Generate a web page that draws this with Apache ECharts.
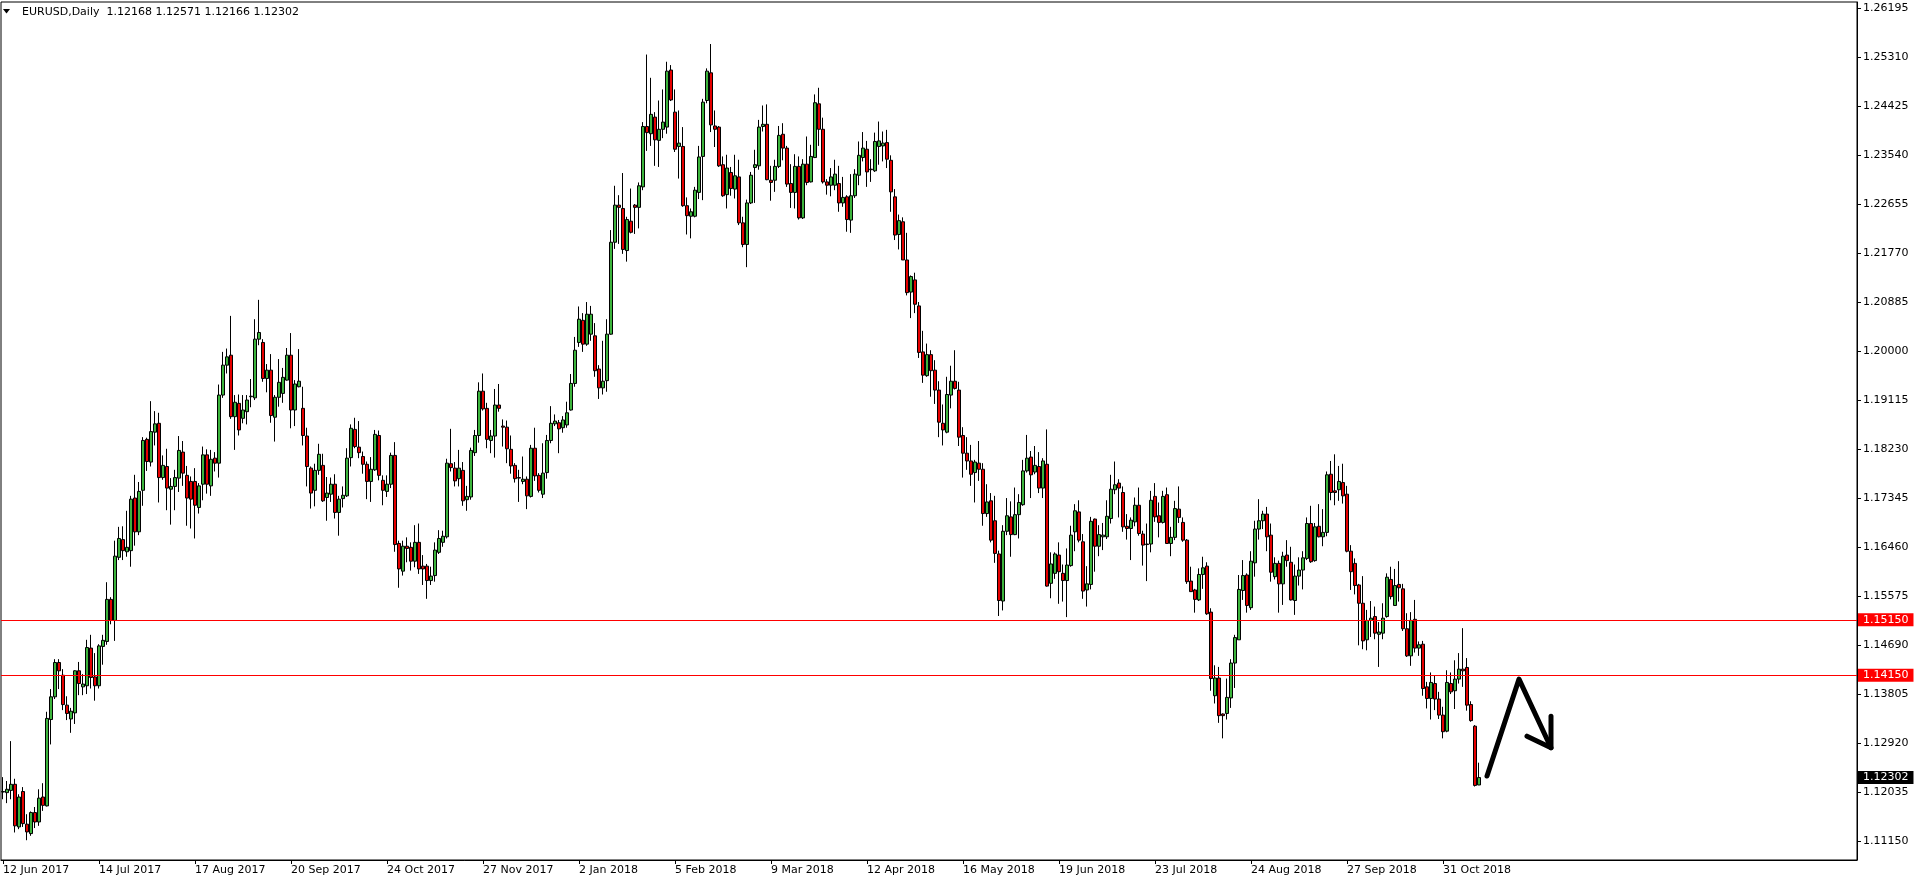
<!DOCTYPE html>
<html><head><meta charset="utf-8">
<script src="https://cdn.jsdelivr.net/npm/echarts@6/dist/echarts.min.js"></script>
<style>html,body{margin:0;padding:0;background:#fff}#c{width:1916px;height:884px}</style>
</head><body><div id="c"></div>
<script>
const headerText = 'EURUSD,Daily  1.12168 1.12571 1.12166 1.12302';
const startDate = [2017, 5, 12];
const holidays = ['12-25', '01-01'];
const totalSlots = 464;
const tickLabels = ['12 Jun 2017','14 Jul 2017','17 Aug 2017','20 Sep 2017','24 Oct 2017','27 Nov 2017','2 Jan 2018','5 Feb 2018','9 Mar 2018','12 Apr 2018','16 May 2018','19 Jun 2018','23 Jul 2018','24 Aug 2018','27 Sep 2018','31 Oct 2018'];
const yTicks = [1.26195,1.25310,1.24425,1.23540,1.22655,1.21770,1.20885,1.20000,1.19115,1.18230,1.17345,1.16460,1.15575,1.14690,1.13805,1.12920,1.12035,1.11150];
const yMin = 1.10813, yMax = 1.26309;
const levels = [1.15150, 1.14150];
const currentPrice = 1.12302;
const arrowPath = [[371,1.1233],[379,1.1408],[387,1.1284]];
const arrowHead = [[381,1.1305],[387,1.1284],[387,1.1341]];
// [open, close, low, high]
const candles = [
[1.1204,1.1205,1.1191,1.1231],[1.1203,1.1209,1.1184,1.1224],[1.1207,1.1218,1.1191,1.1296],[1.1218,1.1143,1.1131,1.1228],[1.1141,1.1195,1.1137,1.12],
[1.1205,1.1147,1.1141,1.1213],[1.1146,1.1132,1.1117,1.1164],[1.1129,1.1167,1.1125,1.1169],[1.1167,1.115,1.1139,1.1177],[1.115,1.1193,1.1143,1.1209],
[1.1195,1.118,1.117,1.122],[1.1179,1.1337,1.1178,1.1349],[1.1335,1.1376,1.129,1.139],[1.1376,1.1438,1.1372,1.1444],[1.1438,1.1423,1.139,1.1444],
[1.1415,1.1362,1.1352,1.1426],[1.1361,1.1346,1.1334,1.1377],[1.1336,1.135,1.1311,1.1356],[1.1347,1.1423,1.1327,1.1424],[1.1423,1.14,1.1379,1.1439],
[1.1394,1.1399,1.1379,1.1417],[1.1396,1.1465,1.1381,1.1479],[1.1464,1.1411,1.1391,1.1488],[1.1412,1.1396,1.1369,1.1455],[1.1396,1.1468,1.1391,1.1471],
[1.1467,1.1478,1.1434,1.1488],[1.1476,1.1552,1.147,1.1583],[1.1552,1.1514,1.1507,1.1556],[1.1514,1.163,1.1477,1.1658],[1.1628,1.1662,1.1623,1.1683],
[1.166,1.164,1.1623,1.1684],[1.1638,1.1646,1.1629,1.1712],[1.164,1.1733,1.1611,1.1739],[1.1735,1.1674,1.1649,1.1777],[1.1674,1.1747,1.1668,1.1764],
[1.1749,1.1839,1.1721,1.1845],[1.1841,1.1801,1.1784,1.1844],[1.18,1.1855,1.1792,1.191],[1.1854,1.1869,1.183,1.1892],[1.187,1.1772,1.1727,1.1889],
[1.1772,1.1794,1.1768,1.1812],[1.1792,1.1753,1.1713,1.1824],[1.1751,1.1756,1.1687,1.1771],[1.1756,1.1772,1.1713,1.1786],[1.1771,1.1821,1.1746,1.1847],
[1.1818,1.178,1.1757,1.1838],[1.1776,1.1735,1.1685,1.1793],[1.1765,1.1733,1.168,1.1774],[1.1765,1.1722,1.1662,1.1789],[1.1718,1.1757,1.1707,1.1762],
[1.176,1.1813,1.1731,1.1828],[1.1813,1.176,1.1743,1.1823],[1.1757,1.1805,1.1739,1.1822],[1.1807,1.1798,1.1783,1.1818],[1.1798,1.1921,1.1772,1.194],
[1.1921,1.1975,1.1916,1.1999],[1.1975,1.199,1.196,1.2005],[1.1993,1.1882,1.1878,1.2064],[1.1882,1.1908,1.1822,1.1921],[1.1906,1.1858,1.1848,1.1922],
[1.1879,1.1894,1.187,1.1921],[1.1891,1.1912,1.1868,1.1921],[1.1918,1.1919,1.1899,1.195],[1.1916,1.2022,1.1912,1.2058],[1.2022,1.2034,1.2011,1.2093],
[1.2016,1.1951,1.1945,1.2022],[1.1951,1.1966,1.1926,1.1977],[1.1966,1.1884,1.1871,1.1995],[1.1881,1.1917,1.1837,1.1921],[1.1917,1.1944,1.19,1.1986],
[1.1924,1.1953,1.1907,1.197],[1.1948,1.1993,1.1947,1.2006],[1.1993,1.1894,1.1861,1.2033],[1.1894,1.1941,1.1865,1.1948],[1.1936,1.1946,1.1935,1.2004],
[1.1897,1.1848,1.183,1.1936],[1.1847,1.1792,1.1756,1.1862],[1.1789,1.1744,1.1716,1.1792],[1.1749,1.1785,1.172,1.1797],[1.1785,1.1814,1.1777,1.1833],
[1.1794,1.173,1.1728,1.1815],[1.1736,1.1744,1.1694,1.1773],[1.1742,1.176,1.1728,1.1772],[1.176,1.1709,1.1698,1.1778],[1.1709,1.1733,1.1667,1.1739],
[1.1734,1.174,1.1718,1.1756],[1.1739,1.1807,1.1737,1.1825],[1.1808,1.1861,1.1792,1.1868],[1.1859,1.1828,1.1825,1.188],[1.1827,1.1817,1.1807,1.1874],
[1.181,1.1796,1.1779,1.1819],[1.1796,1.1765,1.1733,1.1801],[1.1765,1.1787,1.1728,1.1809],[1.1786,1.185,1.1784,1.1858],[1.1848,1.1776,1.1767,1.1857],
[1.1767,1.1749,1.1722,1.1776],[1.1747,1.176,1.1737,1.1776],[1.176,1.1812,1.1753,1.1817],[1.1812,1.1651,1.1638,1.1836],[1.1653,1.1607,1.1573,1.1658],
[1.1603,1.1648,1.1595,1.1658],[1.1648,1.1644,1.1619,1.1664],[1.1646,1.1621,1.1604,1.1655],[1.1621,1.1655,1.161,1.1686],[1.1655,1.1607,1.1598,1.1689],
[1.1612,1.1607,1.1578,1.1632],[1.1612,1.1586,1.1553,1.1616],[1.1586,1.1594,1.1578,1.1611],[1.1595,1.1641,1.1584,1.1655],[1.1637,1.1662,1.1634,1.1677],
[1.1655,1.1666,1.1647,1.1676],[1.1665,1.1798,1.1662,1.1806],[1.1797,1.179,1.1783,1.186],[1.1789,1.1766,1.1756,1.18],[1.177,1.1789,1.1756,1.1822],
[1.1785,1.173,1.1721,1.18],[1.1732,1.1738,1.1712,1.1757],[1.1737,1.1821,1.1732,1.1826],[1.1817,1.1848,1.1811,1.1858],[1.1848,1.1928,1.1835,1.1944],
[1.1928,1.1896,1.1893,1.196],[1.1897,1.1841,1.1825,1.1907],[1.1839,1.1847,1.1816,1.1858],[1.1847,1.1903,1.1808,1.1932],[1.1903,1.1897,1.1891,1.1941],
[1.1865,1.1863,1.1828,1.1877],[1.1863,1.1824,1.1798,1.1875],[1.1823,1.1793,1.1779,1.1848],[1.1794,1.177,1.1763,1.1798],[1.1772,1.1771,1.1728,1.1786],
[1.1765,1.1769,1.176,1.181],[1.1769,1.1739,1.1715,1.1774],[1.1738,1.1825,1.1736,1.1831],[1.1825,1.1775,1.1766,1.1862],[1.1776,1.1749,1.1745,1.178],
[1.1742,1.178,1.1735,1.1834],[1.1781,1.1839,1.177,1.1849],[1.1839,1.187,1.1834,1.1901],[1.1869,1.1874,1.1865,1.1886],[1.1871,1.186,1.1816,1.1876],
[1.1862,1.1876,1.1853,1.1883],[1.1867,1.1889,1.1862,1.1909],[1.1894,1.1942,1.1893,1.1959],[1.1942,1.2002,1.1936,1.2026],[1.2016,1.2058,1.2008,1.2081],
[1.2056,1.2013,1.1999,1.2069],[1.2013,1.2067,1.201,1.2089],[1.2031,1.2067,1.2019,1.2082],[1.2028,1.1965,1.1954,1.2051],[1.1968,1.1934,1.1914,1.1975],
[1.1934,1.1946,1.1922,1.2019],[1.1947,1.2031,1.1927,1.2058],[1.2031,1.2197,1.203,1.2219],[1.2197,1.2264,1.2185,1.2299],[1.2264,1.226,1.2194,1.2282],
[1.2258,1.2184,1.2176,1.2322],[1.2182,1.2238,1.2162,1.2243],[1.2235,1.2215,1.2213,1.2294],[1.2264,1.226,1.2212,1.2266],[1.226,1.2299,1.2222,1.2305],
[1.2297,1.2406,1.2291,1.2414],[1.2406,1.2395,1.2362,1.2536],[1.2393,1.2428,1.2371,1.2494],[1.2423,1.2382,1.2335,1.2432],[1.2381,1.2401,1.2333,1.2453],
[1.2401,1.2414,1.2385,1.2473],[1.2405,1.2506,1.2393,1.2523],[1.2508,1.2454,1.2452,1.2517],[1.2432,1.2365,1.236,1.2473],[1.237,1.2376,1.2312,1.2435],
[1.237,1.2263,1.2261,1.2405],[1.2263,1.2245,1.2211,1.2278],[1.2244,1.2252,1.2204,1.2258],[1.2244,1.2291,1.2242,1.2297],[1.2287,1.2351,1.2275,1.2371],
[1.2352,1.245,1.2273,1.2456],[1.2453,1.2506,1.2448,1.2511],[1.2503,1.2409,1.2396,1.2555],[1.2407,1.2401,1.2369,1.2435],[1.2405,1.2335,1.2333,1.2407],
[1.2337,1.2281,1.2279,1.2352],[1.2283,1.2331,1.2258,1.2355],[1.2323,1.2294,1.2281,1.2333],[1.2293,1.2317,1.2276,1.2355],[1.2315,1.2232,1.2228,1.2346],
[1.2232,1.2193,1.2188,1.2243],[1.2193,1.2268,1.2152,1.2274],[1.2268,1.2318,1.2266,1.2324],[1.2332,1.2337,1.2268,1.2364],[1.2335,1.2405,1.2328,1.2418],
[1.2406,1.241,1.2397,1.2444],[1.241,1.231,1.2309,1.2446],[1.2309,1.2305,1.2272,1.2335],[1.2309,1.2334,1.2288,1.2346],[1.2334,1.239,1.2331,1.2407],
[1.2392,1.2367,1.2345,1.2412],[1.2367,1.2302,1.2297,1.2371],[1.2303,1.2287,1.2259,1.2338],[1.2287,1.2334,1.2258,1.2356],[1.2334,1.2241,1.2238,1.2352],
[1.2241,1.2338,1.2239,1.2347],[1.2338,1.2305,1.23,1.2388],[1.2306,1.2352,1.2305,1.2373],[1.235,1.2449,1.2349,1.2464],[1.2447,1.2401,1.2371,1.2476],
[1.2401,1.2306,1.2303,1.2422],[1.2306,1.23,1.2283,1.2311],[1.23,1.2315,1.228,1.2331],[1.23,1.232,1.2291,1.2346],[1.2303,1.2268,1.2252,1.2335],
[1.2268,1.2278,1.2261,1.2315],[1.2279,1.2238,1.2216,1.2282],[1.2237,1.2281,1.2214,1.232],[1.2281,1.232,1.2277,1.2329],[1.2318,1.2354,1.23,1.2379],
[1.235,1.2367,1.2343,1.2396],[1.2365,1.2324,1.2297,1.238],[1.2329,1.2328,1.2306,1.2347],[1.2326,1.2379,1.2324,1.2395],[1.237,1.238,1.2337,1.2415],
[1.2371,1.2376,1.2343,1.2397],[1.2377,1.2347,1.2331,1.24],[1.2345,1.2288,1.2252,1.2354],[1.2279,1.221,1.2201,1.2293],[1.2211,1.2236,1.2184,1.2247],
[1.2234,1.2165,1.2165,1.2242],[1.2165,1.2106,1.2101,1.2214],[1.2107,1.2135,1.206,1.2137],[1.2129,1.2085,1.2069,1.2142],[1.2082,1.1998,1.1988,1.2089],
[1.1999,1.1957,1.1943,1.2037],[1.1956,1.1994,1.1954,1.2014],[1.1994,1.1965,1.1918,1.2002],[1.1966,1.193,1.1905,1.1984],[1.193,1.1872,1.1845,1.1946],
[1.187,1.1858,1.183,1.1904],[1.1854,1.1922,1.1852,1.1954],[1.1921,1.1946,1.1897,1.1974],[1.1946,1.1933,1.1931,1.2002],[1.193,1.1845,1.1829,1.1945],
[1.1848,1.1816,1.1772,1.1863],[1.1816,1.1802,1.1786,1.1845],[1.1802,1.1778,1.1757,1.1831],[1.1781,1.18,1.1727,1.1804],[1.1798,1.1787,1.1766,1.1838],
[1.1787,1.1707,1.1685,1.1798],[1.1707,1.1728,1.1701,1.176],[1.173,1.1659,1.1655,1.1744],[1.1694,1.1635,1.1618,1.1739],[1.1634,1.155,1.1522,1.164],
[1.1549,1.1675,1.1532,1.1686],[1.1675,1.1703,1.1668,1.1735],[1.1701,1.1669,1.1629,1.1729],[1.1669,1.1705,1.1668,1.1754],[1.1705,1.1727,1.1662,1.1742],
[1.1723,1.1784,1.1721,1.1804],[1.1784,1.1807,1.1781,1.1849],[1.1809,1.1777,1.1735,1.182],[1.1782,1.1794,1.1778,1.1829],[1.1792,1.1753,1.1744,1.1818],
[1.1753,1.1802,1.1735,1.1807],[1.1796,1.1576,1.1575,1.1859],[1.1581,1.1616,1.1554,1.1637],[1.1599,1.1634,1.1589,1.1637],[1.1632,1.1602,1.1544,1.1655],
[1.1599,1.1586,1.1548,1.1615],[1.1586,1.1614,1.152,1.1644],[1.1613,1.1668,1.1611,1.1685],[1.1674,1.1712,1.1639,1.1724],[1.171,1.1659,1.1655,1.1731],
[1.1656,1.1567,1.1553,1.167],[1.1569,1.158,1.1539,1.1612],[1.1579,1.1693,1.157,1.1701],[1.1697,1.1648,1.1602,1.1698],[1.1648,1.1669,1.163,1.1686],
[1.1665,1.1668,1.1641,1.169],[1.1665,1.1702,1.1661,1.1731],[1.1698,1.1751,1.1689,1.1777],[1.175,1.1759,1.1742,1.1801],[1.1762,1.1753,1.17,1.1769],
[1.1745,1.1683,1.1674,1.1756],[1.1684,1.168,1.166,1.1706],[1.168,1.1695,1.1623,1.17],[1.1692,1.1722,1.1684,1.1736],[1.1722,1.1671,1.1667,1.1754],
[1.167,1.165,1.1613,1.1676],[1.1652,1.1651,1.1585,1.1689],[1.1652,1.1731,1.1637,1.1748],[1.1738,1.1701,1.1692,1.1762],[1.1703,1.1691,1.1664,1.1727],
[1.1691,1.1738,1.1689,1.1748],[1.1741,1.1653,1.1652,1.1754],[1.1653,1.1664,1.163,1.1683],[1.1664,1.1716,1.1659,1.173],[1.1715,1.17,1.169,1.1756],
[1.1691,1.1659,1.1656,1.17],[1.1659,1.1584,1.158,1.1661],[1.1585,1.1566,1.1566,1.1611],[1.1569,1.1552,1.1528,1.1571],[1.1551,1.1597,1.1549,1.1608],
[1.1597,1.1609,1.1571,1.1629],[1.1612,1.1526,1.1524,1.1619],[1.1529,1.1409,1.1387,1.1536],[1.1378,1.141,1.1364,1.1433],[1.141,1.1342,1.1329,1.143],
[1.1345,1.1342,1.1301,1.1346],[1.1346,1.1375,1.1335,1.1409],[1.1374,1.1437,1.1356,1.1444],[1.1437,1.1483,1.1392,1.1488],[1.1479,1.157,1.1479,1.1596],
[1.1568,1.1595,1.1551,1.1623],[1.1596,1.1541,1.1528,1.1599],[1.1537,1.1621,1.1533,1.1639],[1.1618,1.1679,1.1593,1.1694],[1.1679,1.1694,1.166,1.1733],
[1.1694,1.1706,1.1679,1.1712],[1.1706,1.1665,1.1639,1.1719],[1.1668,1.1601,1.1584,1.1689],[1.1593,1.1617,1.1588,1.1628],[1.1617,1.158,1.1528,1.1622],
[1.158,1.163,1.1542,1.1638],[1.1632,1.1622,1.1611,1.1659],[1.1619,1.1551,1.155,1.1647],[1.155,1.1594,1.1524,1.1615],[1.1594,1.1605,1.1577,1.1628],
[1.1605,1.1627,1.157,1.1639],[1.1626,1.1689,1.1623,1.17],[1.1689,1.162,1.1618,1.1721],[1.1622,1.1683,1.162,1.169],[1.1684,1.1665,1.1664,1.1724],
[1.1665,1.1673,1.1648,1.1715],[1.1673,1.1777,1.1666,1.1783],[1.1778,1.1745,1.1731,1.1802],[1.1748,1.1745,1.1722,1.1814],[1.175,1.1765,1.173,1.1793],
[1.1763,1.1739,1.1725,1.1797],[1.1742,1.1639,1.1637,1.1757],[1.1639,1.1602,1.1569,1.165],[1.1617,1.1577,1.1561,1.1626],[1.1578,1.1545,1.1469,1.158],
[1.1545,1.1477,1.1462,1.1594],[1.1479,1.1514,1.146,1.1533],[1.1514,1.1518,1.1484,1.1549],[1.1521,1.1491,1.148,1.1539],[1.1489,1.1493,1.143,1.1511],
[1.1491,1.1518,1.148,1.1545],[1.1521,1.1592,1.1519,1.1599],[1.1588,1.1557,1.1552,1.1611],[1.1541,1.1577,1.154,1.1607],[1.1579,1.1573,1.1548,1.1621],
[1.1571,1.1499,1.1495,1.158],[1.1499,1.145,1.1448,1.1527],[1.145,1.1514,1.1432,1.1529],[1.1516,1.1464,1.1456,1.1551],[1.1464,1.147,1.145,1.1476],
[1.1471,1.1391,1.1378,1.1477],[1.1394,1.1373,1.1355,1.1403],[1.1373,1.1402,1.1335,1.142],[1.14,1.1372,1.1352,1.1415],[1.1372,1.1343,1.1336,1.1385],
[1.1343,1.1313,1.1301,1.1358],[1.1314,1.1402,1.1312,1.1424],[1.14,1.1385,1.1381,1.142],[1.1387,1.1408,1.1354,1.1442],[1.1408,1.1426,1.14,1.1455],
[1.1426,1.1423,1.1394,1.15],[1.1429,1.1361,1.1351,1.1446],[1.1362,1.1333,1.1331,1.1368],[1.1323,1.1216,1.1214,1.1325],[1.12168,1.12302,1.12166,1.12571]
];

const MONTHS = ['Jan','Feb','Mar','Apr','May','Jun','Jul','Aug','Sep','Oct','Nov','Dec'];
const categories = [];
(function () {
  const d = new Date(Date.UTC(startDate[0], startDate[1], startDate[2]));
  while (categories.length < candles.length) {
    const wd = d.getUTCDay();
    const md = String(d.getUTCMonth() + 1).padStart(2, '0') + '-' + String(d.getUTCDate()).padStart(2, '0');
    if (wd !== 0 && wd !== 6 && holidays.indexOf(md) < 0) {
      categories.push(d.getUTCDate() + ' ' + MONTHS[d.getUTCMonth()] + ' ' + d.getUTCFullYear());
    }
    d.setUTCDate(d.getUTCDate() + 1);
  }
  while (categories.length < totalSlots) categories.push('');
})();

const FONT = 'DejaVu Sans';
const chart = echarts.init(document.getElementById('c'), null, { renderer: 'canvas' });
const showTick = (idx, val) => tickLabels.indexOf(val) >= 0;

const tagLabel = (bg) => ({
  show: true, position: 'end', distance: 1,
  formatter: (p) => Number(p.value).toFixed(5),
  backgroundColor: bg, color: '#fff',
  fontFamily: FONT, fontSize: 11, lineHeight: 11,
  padding: [1, 5, 1, 5]
});

chart.setOption({
  animation: false,
  backgroundColor: '#fff',
  title: {
    text: headerText, left: 17, top: 2,
    textStyle: { fontFamily: FONT, fontSize: 11, fontWeight: 'normal', color: '#000' }
  },
  graphic: [{
    type: 'polygon', shape: { points: [[3, 9], [10, 9], [6.5, 13.5]] },
    style: { fill: '#000' }
  }],
  grid: { left: 1, right: 59, top: 2, bottom: 24, show: true, borderColor: '#000', borderWidth: 1, backgroundColor: '#fff' },
  xAxis: {
    type: 'category', data: categories, boundaryGap: true,
    axisLine: { lineStyle: { color: '#000', width: 1 } },
    axisTick: { show: true, alignWithLabel: true, interval: showTick, length: 4, lineStyle: { color: '#000' } },
    axisLabel: { interval: showTick, align: 'left', margin: 5, color: '#000', fontFamily: FONT, fontSize: 11 },
    splitLine: { show: false }
  },
  yAxis: {
    type: 'value', position: 'right', min: yMin, max: yMax, scale: true,
    axisLine: { show: true, lineStyle: { color: '#000', width: 1 } },
    axisTick: { show: true, length: 4, customValues: yTicks, lineStyle: { color: '#000' } },
    axisLabel: { customValues: yTicks, margin: 6, color: '#000', fontFamily: FONT, fontSize: 11,
      formatter: (v) => v.toFixed(5) },
    splitLine: { show: false }
  },
  series: [
    {
      type: 'candlestick', data: candles, barWidth: 3,
      itemStyle: { color: '#3cb43c', color0: '#e60000', borderColor: '#000', borderColor0: '#000', borderColorDoji: '#000', borderWidth: 1 },
      markLine: {
        silent: true, symbol: ['none', 'none'], animation: false, precision: 5,
        data: [
          { yAxis: levels[0], lineStyle: { color: '#ff0000', width: 1, type: 'solid' }, label: tagLabel('#ff0000') },
          { yAxis: levels[1], lineStyle: { color: '#ff0000', width: 1, type: 'solid' }, label: tagLabel('#ff0000') },
          { yAxis: currentPrice, lineStyle: { color: 'rgba(0,0,0,0)', width: 1 }, label: tagLabel('#000000') }
        ]
      }
    },
    {
      type: 'line', data: arrowPath, symbol: 'none', silent: true,
      lineStyle: { color: '#000', width: 5, cap: 'round', join: 'round' }
    },
    {
      type: 'line', data: arrowHead, symbol: 'none', silent: true,
      lineStyle: { color: '#000', width: 5, cap: 'round', join: 'round' }
    }
  ]
});
</script>
</body></html>
